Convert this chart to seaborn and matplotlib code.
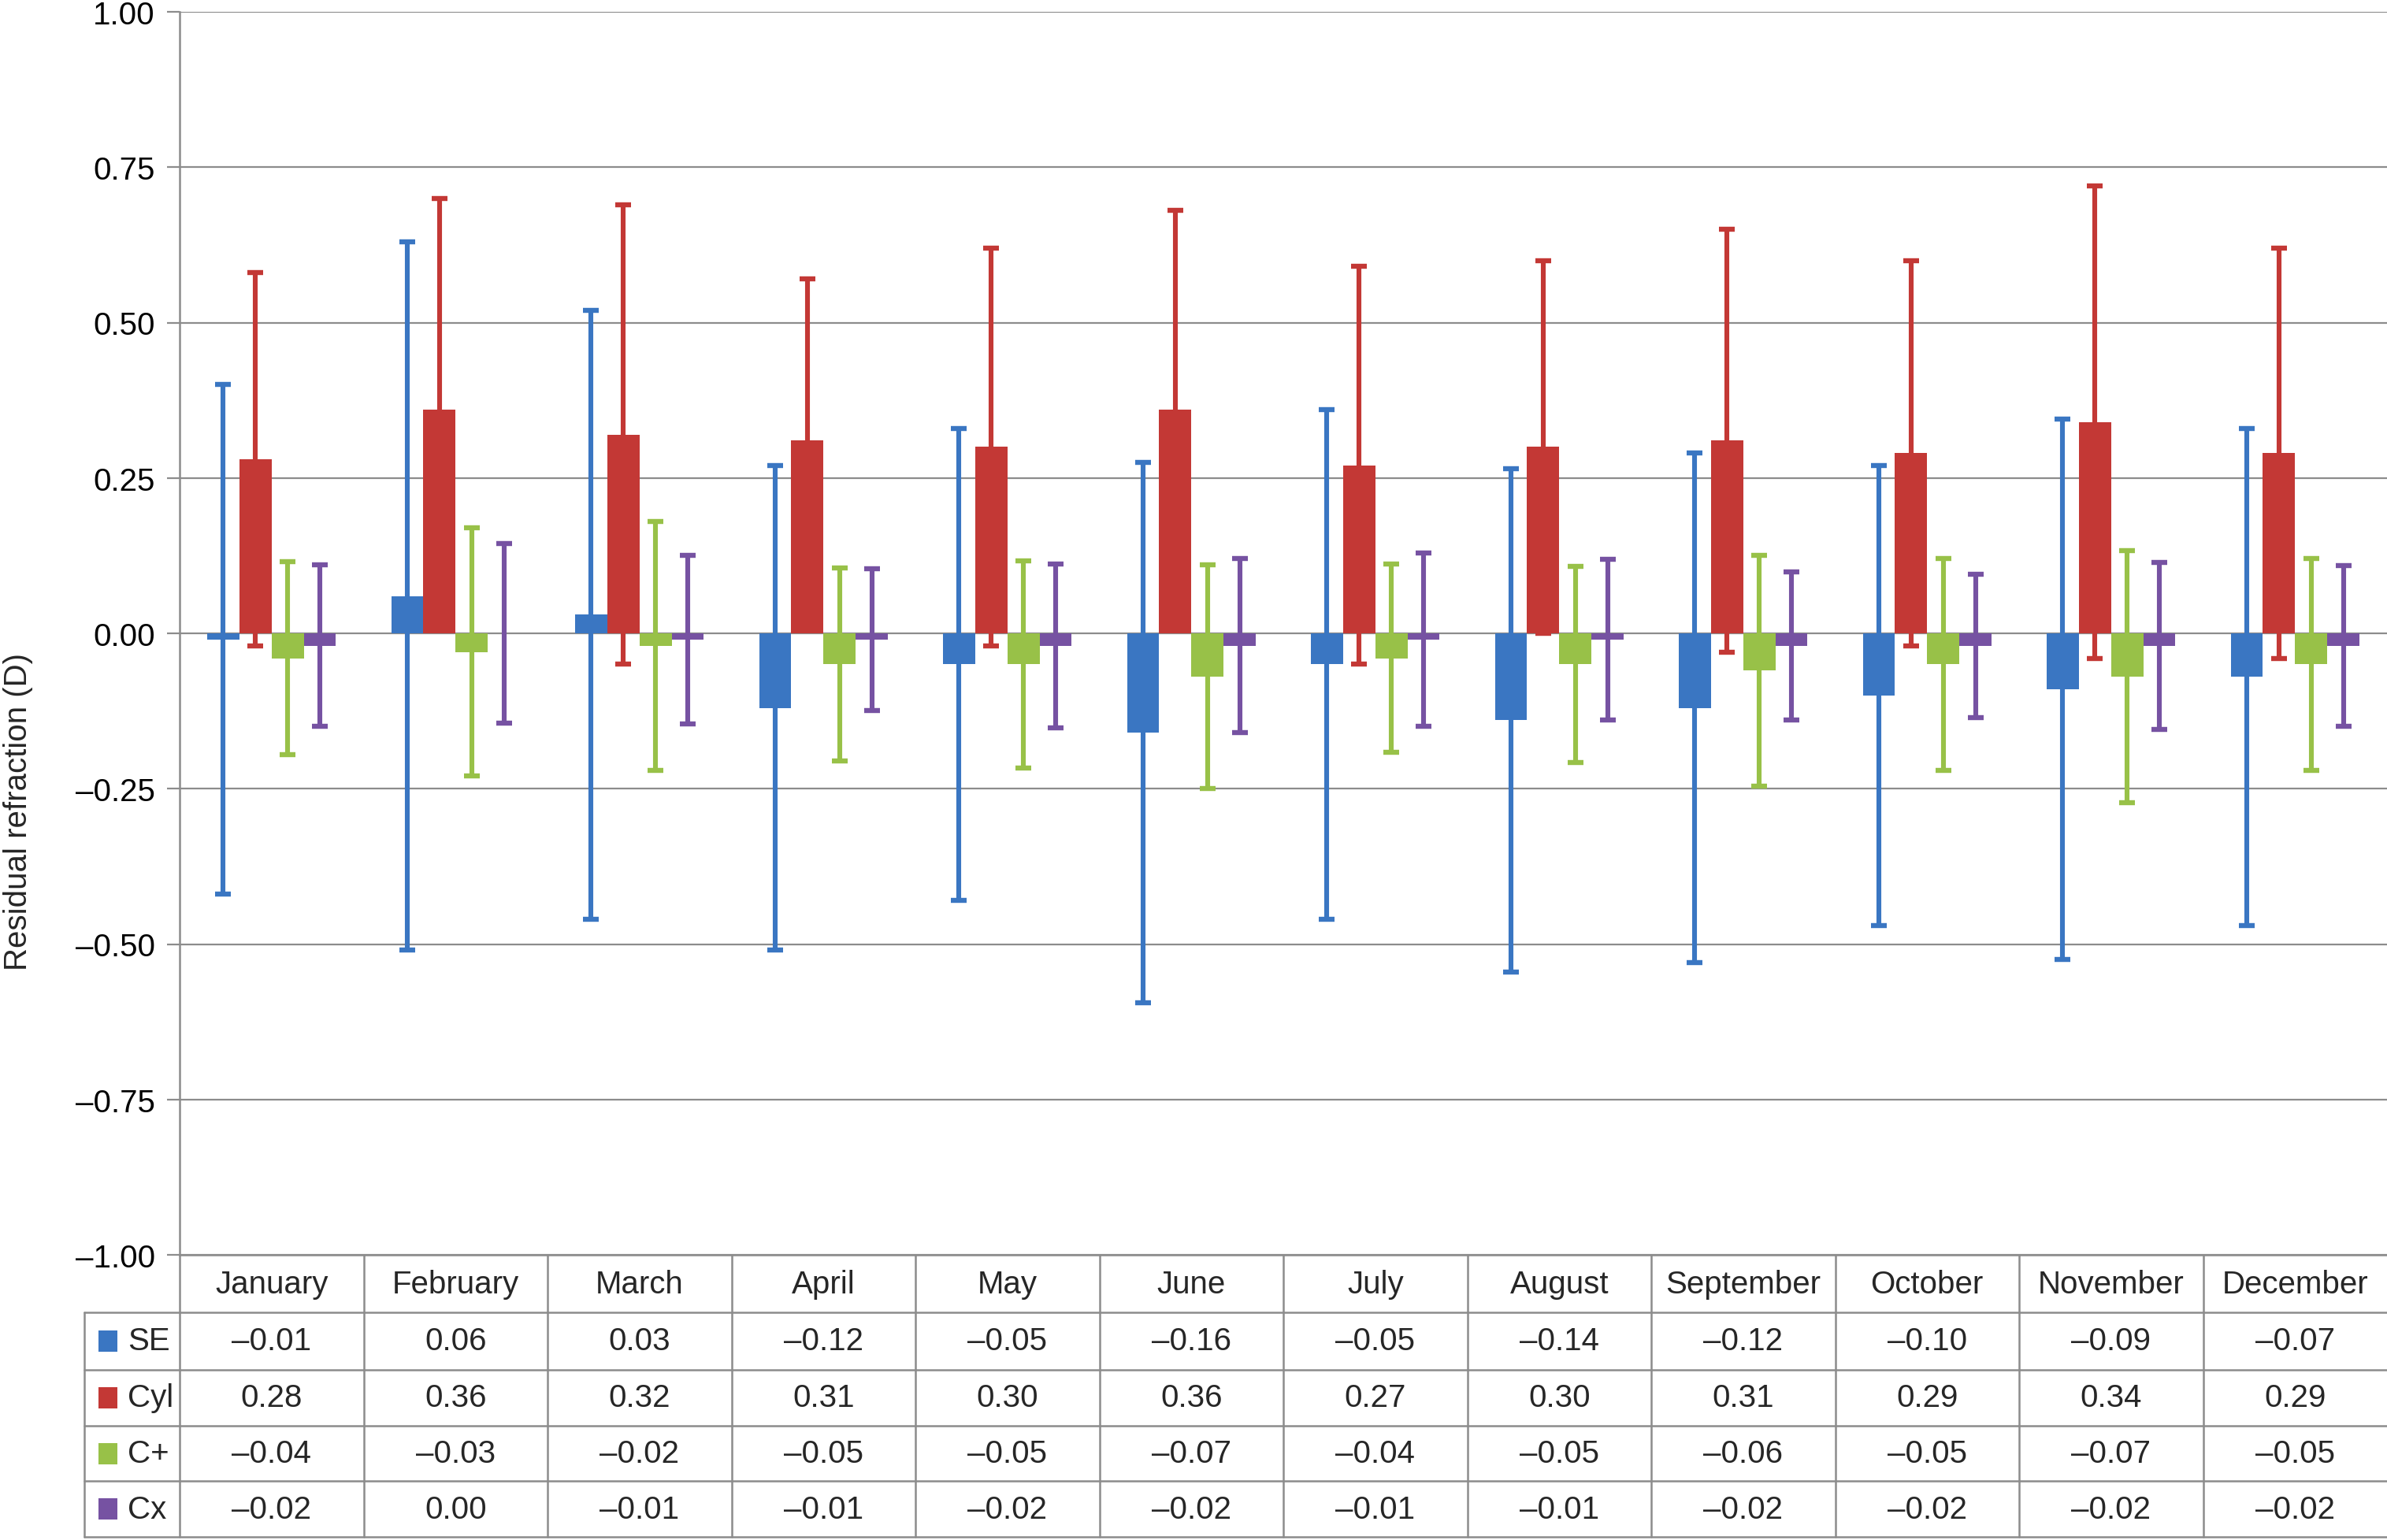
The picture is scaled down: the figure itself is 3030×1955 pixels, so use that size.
import numpy as np
import pandas as pd
import matplotlib
matplotlib.use("Agg")
import matplotlib.pyplot as plt
import matplotlib.transforms as mtransforms
from matplotlib.patches import Rectangle
from matplotlib.ticker import FuncFormatter
import seaborn as sns

# ---------------- data ----------------
months = ["January", "February", "March", "April", "May", "June", "July",
          "August", "September", "October", "November", "December"]
series = ["SE", "Cyl", "C+", "Cx"]

se_mean = [-0.01, 0.06, 0.03, -0.12, -0.05, -0.16, -0.05, -0.14, -0.12, -0.10, -0.09, -0.07]
cyl_mean = [0.28, 0.36, 0.32, 0.31, 0.30, 0.36, 0.27, 0.30, 0.31, 0.29, 0.34, 0.29]
cplus_mean = [-0.04, -0.03, -0.02, -0.05, -0.05, -0.07, -0.04, -0.05, -0.06, -0.05, -0.07, -0.05]
cx_mean = [-0.02, 0.00, -0.01, -0.01, -0.02, -0.02, -0.01, -0.01, -0.02, -0.02, -0.02, -0.02]

se_sd = [0.41, 0.57, 0.49, 0.39, 0.38, 0.435, 0.41, 0.405, 0.41, 0.37, 0.435, 0.40]
cyl_sd = [0.30, 0.34, 0.37, 0.26, 0.32, 0.32, 0.32, 0.30, 0.34, 0.31, 0.38, 0.33]
cplus_sd = [0.155, 0.20, 0.20, 0.155, 0.167, 0.18, 0.152, 0.158, 0.186, 0.171, 0.203, 0.17]
cx_sd = [0.13, 0.144, 0.136, 0.114, 0.132, 0.14, 0.139, 0.129, 0.119, 0.115, 0.134, 0.129]

yticks = [-1.00, -0.75, -0.50, -0.25, 0.00, 0.25, 0.50, 0.75, 1.00]
ylabel = "Residual refraction (D)"

colors = ["#3A76C2", "#C33835", "#98C148", "#7652A2"]
means = [se_mean, cyl_mean, cplus_mean, cx_mean]
sds = [se_sd, cyl_sd, cplus_sd, cx_sd]

df = pd.DataFrame({
    "month": np.tile(months, len(series)),
    "series": np.repeat(series, len(months)),
    "value": np.concatenate(means),
})

# ---------------- style ----------------
sns.set_style("white")
plt.rcParams["font.family"] = ["Liberation Sans", "DejaVu Sans"]
GRID = "#8C8C8C"
FS = 29

W, H = 3030, 1956
fig = plt.figure(figsize=(W / 100, H / 100), dpi=100)
top_px, bot_px, left_px = 16, 1594, 228
ax = fig.add_axes([left_px / W, 1 - bot_px / H, (W - left_px) / W, (bot_px - top_px) / H])

sns.barplot(data=df, x="month", y="value", hue="series", order=months,
            hue_order=series, palette=colors, width=0.70, saturation=1,
            errorbar=None, legend=False, linewidth=0, ax=ax, zorder=2)

for cont, m, sd, col in zip(ax.containers, means, sds, colors):
    xs = [b.get_x() + b.get_width() / 2 for b in cont]
    ax.errorbar(xs, m, yerr=sd, fmt="none", ecolor=col, elinewidth=4.4,
                capsize=7.5, capthick=4.6, zorder=3)

ax.set_xlim(-0.5, len(months) - 0.5)
ax.set_ylim(-1, 1)
ax.set_yticks(yticks)
ax.yaxis.set_major_formatter(FuncFormatter(lambda v, p: f"{v:.2f}".replace("-", "\u2013")))
ax.set_xticks([])
ax.set_xlabel("")
ax.set_ylabel("")
ax.set_axisbelow(True)
ax.yaxis.grid(True, color=GRID, linewidth=1.6)
for s in ["top", "right", "bottom"]:
    ax.spines[s].set_visible(False)
ax.spines["left"].set_color(GRID)
ax.spines["left"].set_linewidth(1.8)
ax.tick_params(axis="y", length=11.5, width=1.6, color=GRID, pad=11,
               labelsize=FS, labelcolor="black", left=True)

fig.text(23 / W, 1 - 1030 / H, ylabel, rotation=90, ha="center", va="center",
         fontsize=FS)

# ---------------- data table ----------------
tax = fig.add_axes([0, 0, 1, 1], facecolor="none")
tax.set_xlim(0, W)
tax.set_ylim(H, 0)
tax.axis("off")
trans = mtransforms.blended_transform_factory(ax.transData, tax.transData)

rows_y = [1594, 1667, 1740, 1811, 1881, 1952]
legend_left = 107
lw_tab = 1.8
n = len(months)

# horizontal lines
tax.plot([-0.5, n - 0.5], [rows_y[0], rows_y[0]], transform=trans, color=GRID, lw=lw_tab, clip_on=False)
for y in rows_y[1:]:
    tax.plot([legend_left, W], [y, y], color=GRID, lw=lw_tab, clip_on=False)
# vertical lines
tax.plot([legend_left, legend_left], [rows_y[1], rows_y[-1]], color=GRID, lw=lw_tab)
for i in range(n):
    xb = i - 0.5
    tax.plot([xb, xb], [rows_y[0], rows_y[-1]], transform=trans, color=GRID, lw=lw_tab)

# header
yc_head = (rows_y[0] + rows_y[1]) / 2
for i, mname in enumerate(months):
    tax.text(i, yc_head, mname, transform=trans, ha="center", va="center", fontsize=FS)

# rows
for r, (name, m, col) in enumerate(zip(series, means, colors)):
    yc = (rows_y[r + 1] + rows_y[r + 2]) / 2
    tax.add_patch(Rectangle((125, yc - 13.5), 24, 27, facecolor=col, edgecolor="none"))
    tax.text(162, yc, name, ha="left", va="center", fontsize=FS)
    for i, v in enumerate(m):
        tax.text(i, yc, f"{v:.2f}".replace("-", "\u2013"), transform=trans,
                 ha="center", va="center", fontsize=FS)

fig.savefig("out.png", dpi=100)
